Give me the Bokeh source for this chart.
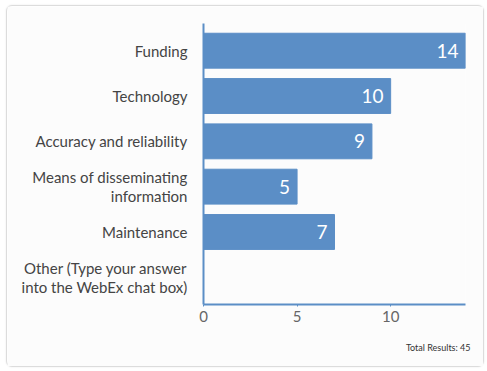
from bokeh.plotting import figure
from bokeh.models import FactorRange, Range1d, Title, ColumnDataSource, FixedTicker
from bokeh.core.properties import value
from bokeh.embed import file_html
from bokeh.resources import INLINE

categories = ["Funding", "Technology", "Accuracy and reliability",
              "Means of disseminating\ninformation", "Maintenance",
              "Other (Type your answer\ninto the WebEx chat box)"]
counts = [14, 10, 9, 5, 7, 0]
labels = ["14", "10", "9", "5", "7", ""]
x_ticks = [0, 5, 10]
total_text = "Total Results: 45"

BAR = "#5b8ec6"
FONT = "Lato"

src = ColumnDataSource(dict(cat=categories, n=counts, lab=labels))

p = figure(width=478, height=362, output_backend="svg", toolbar_location=None,
           y_range=FactorRange(factors=list(reversed(categories)),
                               range_padding=0.1, range_padding_units="absolute"),
           x_range=Range1d(0, 14),
           min_border_left=196, min_border_right=20, min_border_top=17,
           min_border_bottom=63)
p.styles = {"border": "1px solid #dcdcdc", "border-radius": "6px",
            "box-shadow": "0 0 2px #e6e6e6", "margin-left": "6px", "margin-top": "5px"}
p.background_fill_color = "#fcfcfc"
p.border_fill_color = "#fcfcfc"
p.outline_line_color = None
p.grid.visible = False

p.hbar(y="cat", right="n", left=0, height=0.77, source=src,
       fill_color=BAR, line_color=BAR)
p.text(x="n", y="cat", text="lab", source=src, x_offset=-7,
       text_align="right", text_baseline="middle", text_color="white",
       text_font=value(FONT), text_font_size="19px")

ya = p.yaxis[0]
ya.axis_line_color = BAR
ya.axis_line_width = 2
ya.major_tick_line_color = None
ya.minor_tick_line_color = None
ya.major_label_text_font = FONT
ya.major_label_text_font_size = "15px"
ya.major_label_text_line_height = 1.05
ya.major_label_text_color = "#444444"
ya.major_label_standoff = 10

xa = p.xaxis[0]
xa.ticker = FixedTicker(ticks=x_ticks)
xa.axis_line_color = BAR
xa.axis_line_width = 2
xa.major_tick_line_color = BAR
xa.major_tick_in = 0
xa.major_tick_out = 2
xa.minor_tick_line_color = None
xa.major_label_text_font = FONT
xa.major_label_text_font_size = "15px"
xa.major_label_text_color = "#666666"
xa.major_label_standoff = 4

p.add_layout(Title(text=total_text, align="right", text_font=FONT,
                   text_font_size="9px", text_font_style="normal",
                   text_color="#333333", standoff=31, offset=-5), "below")

open("out.html", "w").write(file_html(p, INLINE))
